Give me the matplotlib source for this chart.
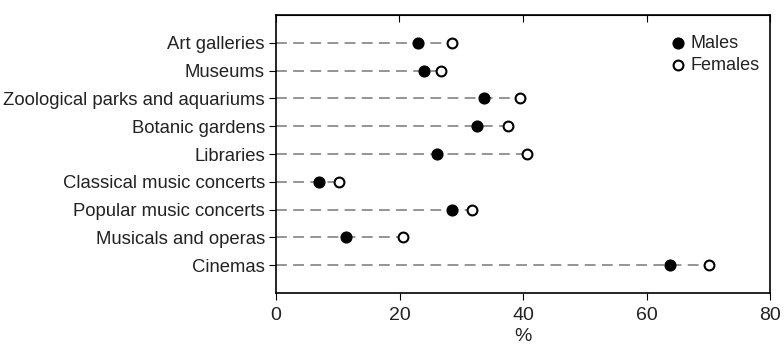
import numpy as np
import matplotlib.pyplot as plt

plt.rcParams['font.family'] = ['Liberation Sans', 'DejaVu Sans']

categories = ["Art galleries", "Museums", "Zoological parks and aquariums",
              "Botanic gardens", "Libraries", "Classical music concerts",
              "Popular music concerts", "Musicals and operas", "Cinemas"]
males = [23.0, 24.0, 33.7, 32.5, 26.1, 7.0, 28.5, 11.3, 63.8]
females = [28.5, 26.7, 39.5, 37.6, 40.6, 10.2, 31.7, 20.6, 70.1]
xticks = [0, 20, 40, 60, 80]

fig = plt.figure(figsize=(7.84, 3.47), dpi=100)
ax = fig.add_axes([276 / 784, 1 - 293 / 347, (770 - 276) / 784, (293 - 15) / 347])

y = np.arange(len(categories))
for yi, f in zip(y, females):
    ax.plot([0, f], [yi, yi], ls=(0, (6, 3.5)), color='#8c8c8c', lw=1.3, zorder=1)
ax.scatter(males, y, s=60, color='black', zorder=3, label='Males')
ax.scatter(females, y, s=50, facecolor='white', edgecolor='black', lw=1.5,
           zorder=3, label='Females')

ax.set_xlim(0, 80)
ax.set_ylim(len(categories), -1)
ax.set_xticks(xticks)
ax.set_yticks(y)
ax.set_yticklabels(categories, color='#222222')
ax.set_xlabel('%', fontsize=14, labelpad=3, color='#222222')
ax.tick_params(axis='x', labelsize=14, length=5, direction='out', top=False,
               labelcolor='#222222', pad=5)
ax.tick_params(axis='y', labelsize=13.3, length=5, direction='out', pad=3)
for s in ax.spines.values():
    s.set_linewidth(1.2)

# top ticks point inward
ax2 = ax.secondary_xaxis('top')
ax2.set_xticks(xticks)
ax2.tick_params(direction='in', length=5, labeltop=False)

leg = ax.legend(loc='upper right', bbox_to_anchor=(1.005, 0.975), frameon=False,
                fontsize=13, handletextpad=0.2, borderaxespad=0.3,
                labelspacing=0.3, handlelength=1.0)
for t in leg.get_texts():
    t.set_color('#222222')

fig.savefig('out.png', dpi=100)
